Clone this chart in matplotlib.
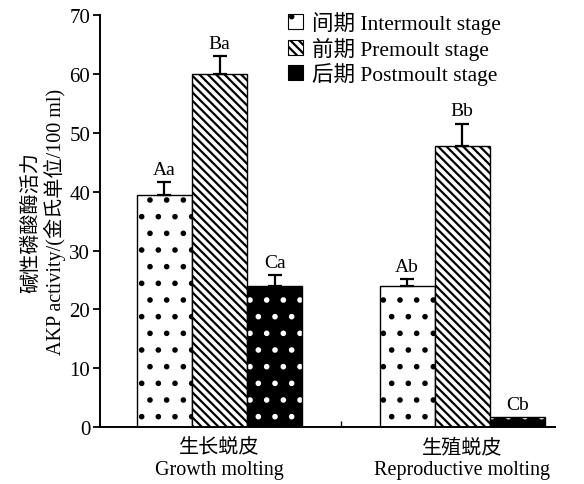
import matplotlib.pyplot as plt
import numpy as np
from matplotlib.patches import Patch

plt.rcParams['font.family'] = ['Liberation Serif', 'Noto Sans CJK SC']
plt.rcParams['hatch.linewidth'] = 1.6

groups = ['生长蜕皮\nGrowth molting', '生殖蜕皮\nReproductive molting']
stages = ['间期 Intermoult stage', '前期 Premoult stage', '后期 Postmoult stage']
intermoult = [39.4, 24.0]
premoult = [60.0, 47.7]
postmoult = [24.0, 1.7]
err_inter = [2.2, 1.1]
err_pre = [3.0, 3.8]
err_post = [1.8, 0.0]
letters = [['Aa', 'Ab'], ['Ba', 'Bb'], ['Ca', 'Cb']]

values = [intermoult, premoult, postmoult]
errors = [err_inter, err_pre, err_post]
faces = ['white', 'white', 'black']
hatch_col = ['black', 'black', 'white']
hatches = ['.', '\\\\\\\\', '.']

fig = plt.figure(figsize=(5.84, 4.85), dpi=100)
ax = fig.add_axes([0.171, 0.117, 0.78, 0.85])

x = np.arange(len(groups))
w = 0.227
for i in range(3):
    pos = x + (i - 1) * w
    ax.bar(pos, values[i], w, color=faces[i], edgecolor=hatch_col[i],
           hatch=hatches[i], linewidth=0)
    ax.bar(pos, values[i], w, fill=False, edgecolor='black', linewidth=1.0)
    for j in range(len(groups)):
        if errors[i][j] > 0:
            ax.errorbar(pos[j], values[i][j], yerr=[[0], [errors[i][j]]],
                        fmt='none', ecolor='black', elinewidth=1.6, capsize=5, capthick=1.6)
        ax.text(pos[j], values[i][j] + errors[i][j] + 0.8, letters[i][j],
                ha='center', va='bottom', fontsize=14)

ax.set_xlim(-0.493, 1.384)
ax.set_ylim(0, 70)
ax.set_yticks(np.arange(0, 71, 10))
ax.set_xticks([0.5])
ax.set_xticklabels([''])
ax.tick_params(axis='x', direction='in', length=4, width=1)
ax.tick_params(axis='y', direction='out', length=5, width=1.3, labelsize=15, pad=2)
for j, g in enumerate(groups):
    ax.text(x[j], -1.9, g, ha='center', va='top', fontsize=14.5, linespacing=1.2)
ax.spines['top'].set_visible(False)
ax.spines['right'].set_visible(False)
ax.spines['left'].set_linewidth(1.4)
ax.spines['bottom'].set_linewidth(1.4)
ax.set_ylabel('碱性磷酸酶活力\nAKP activity/(金氏单位/100 ml)', fontsize=14.5, labelpad=2,
              linespacing=1.15)

handles = [Patch(facecolor=faces[i], edgecolor=hatch_col[i], hatch=hatches[i], linewidth=0)
           for i in range(3)]
leg = ax.legend(handles, stages, loc='upper left', bbox_to_anchor=(0.39, 1.035),
                frameon=False, fontsize=15.5, handlelength=0.7, handleheight=0.7,
                handletextpad=0.4, labelspacing=0.12, borderpad=0)
for p in leg.get_patches():
    p.set_edgecolor('black')
    p.set_linewidth(0.8)

fig.savefig('out.png', dpi=100)
